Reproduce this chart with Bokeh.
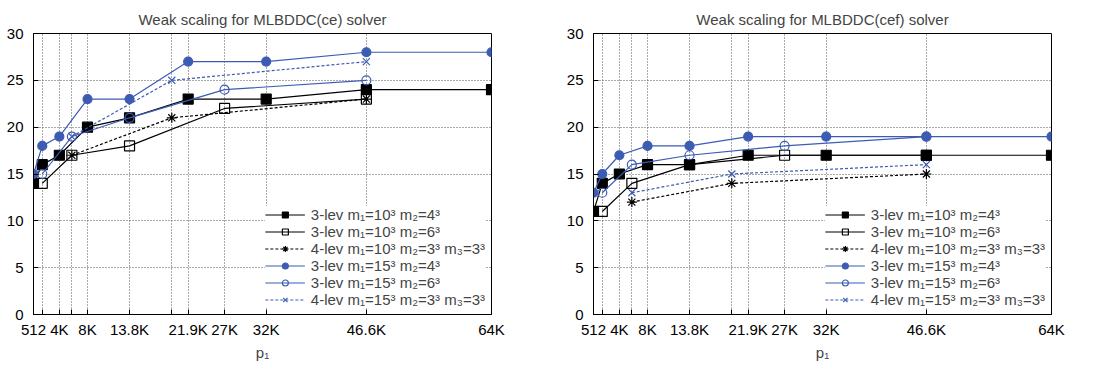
from bokeh.plotting import figure
from bokeh.layouts import row
from bokeh.models import (FixedTicker, Legend, LegendItem, Range1d)
from bokeh.embed import file_html
from bokeh.resources import INLINE

# ---- data ----
X_A = [512, 1728, 4096, 8000, 13824, 21952, 32768, 46656, 64000]
X_B = [1728, 5832, 13824, 27000, 46656]
X_C = [5832, 19683, 46656]

ce_3lev_10_4 = [14, 16, 17, 20, 21, 23, 23, 24, 24]
ce_3lev_10_6 = [14, 17, 18, 22, 23]
ce_4lev_10 = [17, 21, 23]
ce_3lev_15_4 = [15, 18, 19, 23, 23, 27, 27, 28, 28]
ce_3lev_15_6 = [15, 19, 21, 24, 25]
ce_4lev_15 = [19, 25, 27]

cef_3lev_10_4 = [11, 14, 15, 16, 16, 17, 17, 17, 17]
cef_3lev_10_6 = [11, 14, 16, 17, 17]
cef_4lev_10 = [12, 14, 15]
cef_3lev_15_4 = [13, 15, 17, 18, 18, 19, 19, 19, 19]
cef_3lev_15_6 = [13, 16, 17, 18, 19]
cef_4lev_15 = [13, 15, 16]

x_ticks = [512, 4096, 8000, 13824, 21952, 27000, 32768, 46656, 64000]
x_tick_labels = ["512", "4K", "8K", "13.8K", "21.9K", "27K", "32K", "46.6K", "64K"]
x_extra_ticks = [1728, 5832, 19683]
y_ticks = [0, 5, 10, 15, 20, 25, 30]

labels = [
    "3-lev m\u2081=10\u00b3 m\u2082=4\u00b3",
    "3-lev m\u2081=10\u00b3 m\u2082=6\u00b3",
    "4-lev m\u2081=10\u00b3 m\u2082=3\u00b3 m\u2083=3\u00b3",
    "3-lev m\u2081=15\u00b3 m\u2082=4\u00b3",
    "3-lev m\u2081=15\u00b3 m\u2082=6\u00b3",
    "4-lev m\u2081=15\u00b3 m\u2082=3\u00b3 m\u2083=3\u00b3",
]

BLUE = "#3c5cb4"
FONT = "Liberation Sans"
FS = "15px"

styles = [
    dict(color="black", dash="solid", marker="square", size=10, fill="black"),
    dict(color="black", dash="solid", marker="square", size=10, fill=None),
    dict(color="black", dash="3 2", marker="asterisk", size=10, fill=None),
    dict(color=BLUE, dash="solid", marker="circle", size=9, fill=BLUE),
    dict(color=BLUE, dash="solid", marker="circle", size=9, fill=None),
    dict(color=BLUE, dash="3 2", marker="x", size=10, fill=None),
]


def make_fig(title, series, bl, br):
    p = figure(output_backend="svg", toolbar_location=None,
               frame_width=458, frame_height=281,
               min_border_left=bl, min_border_right=br,
               min_border_top=33, min_border_bottom=46,
               x_range=Range1d(512, 64000), y_range=Range1d(0, 30),
               title=title)
    p.title.align = "center"
    p.title.text_font = FONT
    p.title.text_font_size = FS
    p.title.text_font_style = "normal"
    p.title.offset = 0
    p.title.standoff = 12

    p.outline_line_color = "black"
    p.outline_line_width = 1
    p.outline_line_alpha = 1

    xt = FixedTicker(ticks=x_ticks, minor_ticks=x_extra_ticks)
    xg = FixedTicker(ticks=sorted(x_ticks + x_extra_ticks))
    yt = FixedTicker(ticks=y_ticks)
    overrides = {t: l for t, l in zip(x_ticks, x_tick_labels)}

    p.xaxis.ticker = xt
    p.xaxis.major_label_overrides = overrides
    p.yaxis.ticker = yt
    for ax in (p.xaxis[0], p.yaxis[0]):
        ax.major_tick_in = 5
        ax.major_tick_out = 0
        ax.minor_tick_in = 5
        ax.minor_tick_out = 0
        ax.minor_tick_line_color = "black"
        ax.axis_line_color = "black"
        ax.major_tick_line_color = "black"
        ax.major_label_text_font = FONT
        ax.major_label_text_font_size = FS
        ax.major_label_text_color = "black"
    p.xaxis.major_label_standoff = 6
    p.yaxis.major_label_standoff = 10
    p.xaxis.axis_label = "p\u2081"
    p.xaxis.axis_label_text_font = FONT
    p.xaxis.axis_label_text_font_size = FS
    p.xaxis.axis_label_text_font_style = "normal"
    p.xaxis.axis_label_standoff = 3

    for g in (p.xgrid[0], p.ygrid[0]):
        g.grid_line_color = "#555555"
        g.grid_line_dash = "1 2"
        g.grid_line_width = 1
    p.xgrid.ticker = xg
    p.ygrid.ticker = yt

    items = []
    for (xs, ys), st, lab in zip(series, styles, labels):
        lr = p.line(xs, ys, line_color=st["color"], line_width=1.2,
                    line_dash=st["dash"])
        sr = p.scatter(xs, ys, marker=st["marker"], size=st["size"],
                       line_color=st["color"], line_width=1.2,
                       fill_color=st["fill"])
        items.append(LegendItem(label=lab, renderers=[lr, sr]))

    leg = Legend(items=items, location="bottom_right")
    leg.label_text_font = FONT
    leg.label_text_font_size = FS
    leg.label_height = 15
    leg.glyph_height = 15
    leg.glyph_width = 40
    leg.spacing = 0
    leg.padding = 4
    leg.margin = 6
    leg.border_line_color = None
    leg.background_fill_color = "white"
    leg.background_fill_alpha = 1
    leg.label_standoff = 6
    p.add_layout(leg, "center")
    return p


ce_series = [(X_A, ce_3lev_10_4), (X_B, ce_3lev_10_6), (X_C, ce_4lev_10),
             (X_A, ce_3lev_15_4), (X_B, ce_3lev_15_6), (X_C, ce_4lev_15)]
cef_series = [(X_A, cef_3lev_10_4), (X_B, cef_3lev_10_6), (X_C, cef_4lev_10),
              (X_A, cef_3lev_15_4), (X_B, cef_3lev_15_6), (X_C, cef_4lev_15)]

p1 = make_fig("Weak scaling for MLBDDC(ce) solver", ce_series, 33, 56)
p2 = make_fig("Weak scaling for MLBDDC(cef) solver", cef_series, 46, 39)

layout = row(p1, p2, spacing=0)
open("out.html", "w").write(file_html(layout, INLINE))
